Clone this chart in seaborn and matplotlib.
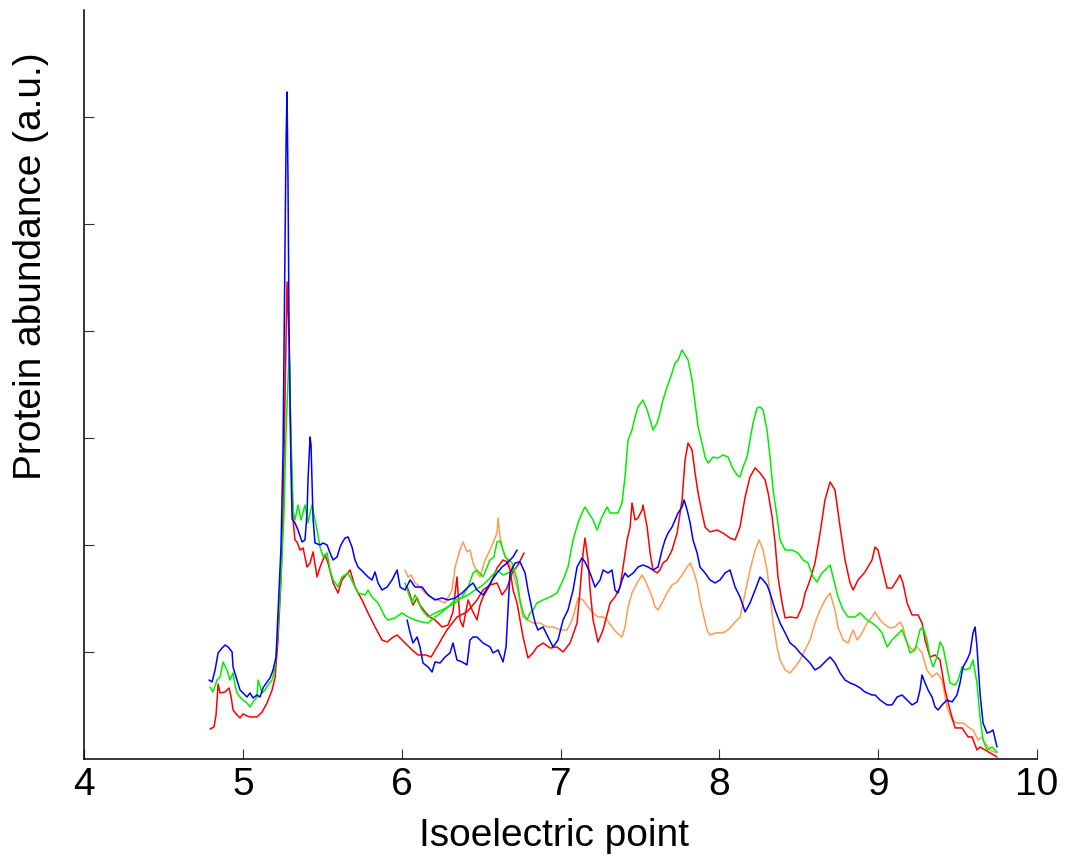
import matplotlib
matplotlib.use("Agg")
import matplotlib.pyplot as plt
import seaborn as sns
import pandas as pd

# ---- Profile data: isoelectric point (pH) vs. protein abundance (a.u.) ----
# Each sample was focused on two overlapping strips (low pH range and high pH range).

red_low_ph = [4.793, 4.818, 4.831, 4.844, 4.856, 4.888, 4.913, 4.926, 4.938, 4.963, 4.982, 5.001, 5.026, 5.045,
              5.089, 5.121, 5.152, 5.184, 5.203, 5.221, 5.240, 5.253, 5.265, 5.278, 5.291, 5.303, 5.316, 5.328,
              5.341, 5.360, 5.379, 5.404, 5.423, 5.442, 5.467, 5.486, 5.517, 5.536, 5.568, 5.599, 5.624, 5.675,
              5.706, 5.750, 5.788, 5.832, 5.876, 5.908, 5.939, 5.971, 6.002, 6.034, 6.065, 6.103, 6.153, 6.185,
              6.222, 6.285, 6.348, 6.411, 6.474, 6.512, 6.556, 6.600, 6.632, 6.663, 6.695, 6.732, 6.770]
red_low_val = [0.280, 0.299, 0.411, 0.701, 0.617, 0.626, 0.664, 0.579, 0.458, 0.411, 0.383, 0.421, 0.402, 0.393,
               0.393, 0.439, 0.523, 0.645, 0.766, 1.112, 1.673, 2.299, 3.355, 4.458, 3.916, 2.888, 2.234, 2.047,
               2.028, 1.953, 1.972, 1.794, 1.832, 1.935, 1.701, 1.794, 1.907, 1.832, 1.645, 1.551, 1.673, 1.766,
               1.608, 1.486, 1.365, 1.234, 1.112, 1.093, 1.131, 1.159, 1.112, 1.065, 1.019, 0.972, 0.972, 0.953,
               1.047, 1.206, 1.327, 1.374, 1.486, 1.579, 1.626, 1.645, 1.533, 1.598, 1.738, 1.813, 1.925]

red_high_ph = [6.034, 6.053, 6.071, 6.097, 6.115, 6.147, 6.178, 6.210, 6.254, 6.292, 6.323, 6.348, 6.367, 6.386,
               6.418, 6.443, 6.474, 6.493, 6.512, 6.556, 6.600, 6.638, 6.663, 6.682, 6.701, 6.726, 6.745, 6.764,
               6.795, 6.827, 6.852, 6.890, 6.934, 6.978, 7.016, 7.060, 7.104, 7.123, 7.142, 7.154, 7.173, 7.186,
               7.205, 7.236, 7.268, 7.312, 7.343, 7.375, 7.394, 7.419, 7.438, 7.450, 7.469, 7.488, 7.513, 7.519,
               7.545, 7.564, 7.582, 7.608, 7.626, 7.645, 7.671, 7.702, 7.734, 7.765, 7.784, 7.803, 7.828, 7.847,
               7.866, 7.891, 7.910, 7.941, 7.985, 8.023, 8.067, 8.099, 8.118, 8.130, 8.162, 8.193, 8.225, 8.256,
               8.288, 8.307, 8.332, 8.351, 8.369, 8.395, 8.414, 8.445, 8.489, 8.521, 8.540, 8.571, 8.602, 8.634,
               8.665, 8.697, 8.728, 8.760, 8.791, 8.823, 8.842, 8.873, 8.917, 8.961, 8.980, 8.999, 9.024, 9.056,
               9.087, 9.119, 9.137, 9.156, 9.182, 9.213, 9.251, 9.276, 9.295, 9.326, 9.358, 9.389, 9.421, 9.452,
               9.484, 9.528, 9.566, 9.591, 9.622, 9.641, 9.673, 9.704, 9.748]
red_high_val = [1.608, 1.533, 1.439, 1.505, 1.439, 1.374, 1.327, 1.299, 1.234, 1.252, 1.374, 1.701, 1.299, 1.234,
                1.486, 1.393, 1.299, 1.439, 1.514, 1.626, 1.785, 1.860, 1.841, 1.766, 1.579, 1.458, 1.299, 1.140,
                0.944, 0.991, 1.047, 1.084, 1.037, 1.047, 1.000, 1.084, 1.271, 1.579, 1.925, 2.065, 1.860, 1.579,
                1.299, 1.093, 1.206, 1.458, 1.514, 1.607, 1.794, 2.047, 2.168, 2.393, 2.234, 2.252, 2.327, 2.374,
                2.168, 1.925, 1.766, 1.738, 1.766, 1.832, 1.860, 1.953, 2.112, 2.421, 2.794, 2.953, 2.888, 2.673,
                2.486, 2.299, 2.168, 2.122, 2.140, 2.112, 2.065, 2.047, 2.122, 2.168, 2.449, 2.636, 2.720, 2.673,
                2.608, 2.486, 2.262, 2.019, 1.701, 1.458, 1.318, 1.327, 1.318, 1.421, 1.551, 1.673, 1.832, 2.112,
                2.421, 2.589, 2.514, 2.168, 1.860, 1.645, 1.579, 1.673, 1.748, 1.860, 1.981, 1.953, 1.794, 1.598,
                1.598, 1.673, 1.720, 1.645, 1.458, 1.346, 1.346, 1.271, 1.112, 0.953, 0.972, 0.925, 0.645, 0.458,
                0.290, 0.290, 0.206, 0.206, 0.084, 0.112, 0.084, 0.056, 0.019]

green_low_ph = [4.793, 4.812, 4.837, 4.856, 4.875, 4.900, 4.919, 4.938, 4.951, 4.963, 4.982, 5.001, 5.026, 5.045,
                5.064, 5.089, 5.096, 5.121, 5.140, 5.158, 5.184, 5.203, 5.221, 5.240, 5.259, 5.272, 5.291, 5.303,
                5.310, 5.316, 5.328, 5.347, 5.366, 5.391, 5.410, 5.435, 5.454, 5.467, 5.486, 5.505, 5.530, 5.549,
                5.568, 5.599, 5.624, 5.662, 5.694, 5.725, 5.769, 5.788, 5.813, 5.851, 5.895, 5.914, 5.958, 6.002,
                6.040, 6.084, 6.128, 6.166, 6.210, 6.254, 6.292, 6.336, 6.380, 6.418, 6.462, 6.512, 6.556, 6.600,
                6.638, 6.682, 6.720]
green_low_val = [0.673, 0.626, 0.738, 0.766, 0.907, 0.832, 0.738, 0.804, 0.692, 0.617, 0.579, 0.551, 0.523, 0.486,
                 0.533, 0.579, 0.738, 0.617, 0.645, 0.692, 0.738, 0.860, 1.206, 1.673, 2.299, 3.075, 3.785, 2.981,
                 2.673, 2.327, 2.234, 2.374, 2.234, 2.374, 2.206, 2.374, 2.234, 2.140, 1.981, 1.888, 1.925, 1.766,
                 1.673, 1.607, 1.701, 1.738, 1.645, 1.551, 1.533, 1.579, 1.514, 1.458, 1.327, 1.299, 1.318, 1.365,
                 1.327, 1.299, 1.280, 1.271, 1.327, 1.374, 1.421, 1.486, 1.505, 1.533, 1.579, 1.626, 1.692, 1.766,
                 1.720, 1.748, 1.785]

green_high_ph = [6.021, 6.046, 6.065, 6.084, 6.128, 6.166, 6.210, 6.254, 6.292, 6.336, 6.380, 6.418, 6.449, 6.474,
                 6.512, 6.556, 6.581, 6.600, 6.619, 6.632, 6.651, 6.695, 6.726, 6.745, 6.764, 6.789, 6.808, 6.827,
                 6.852, 6.890, 6.934, 6.978, 7.016, 7.047, 7.079, 7.110, 7.135, 7.154, 7.173, 7.205, 7.230, 7.261,
                 7.293, 7.312, 7.331, 7.362, 7.387, 7.406, 7.425, 7.450, 7.469, 7.488, 7.519, 7.545, 7.564, 7.582,
                 7.608, 7.626, 7.645, 7.671, 7.702, 7.721, 7.740, 7.765, 7.784, 7.803, 7.828, 7.847, 7.866, 7.891,
                 7.910, 7.929, 7.960, 7.992, 8.023, 8.055, 8.080, 8.111, 8.130, 8.149, 8.174, 8.193, 8.212, 8.237,
                 8.256, 8.275, 8.300, 8.319, 8.338, 8.363, 8.382, 8.414, 8.458, 8.495, 8.527, 8.558, 8.590, 8.615,
                 8.646, 8.678, 8.697, 8.716, 8.747, 8.779, 8.810, 8.854, 8.886, 8.930, 8.961, 8.993, 9.024, 9.056,
                 9.087, 9.119, 9.150, 9.182, 9.201, 9.232, 9.263, 9.282, 9.307, 9.326, 9.345, 9.370, 9.389, 9.408,
                 9.433, 9.452, 9.484, 9.503, 9.528, 9.547, 9.578, 9.597, 9.622, 9.641, 9.660, 9.685, 9.717, 9.748]
green_high_val = [1.645, 1.533, 1.458, 1.533, 1.393, 1.327, 1.365, 1.393, 1.421, 1.458, 1.514, 1.607, 1.738, 1.766,
                  1.701, 1.860, 1.888, 2.028, 2.037, 1.981, 1.888, 1.832, 1.673, 1.486, 1.365, 1.299, 1.365, 1.393,
                  1.458, 1.486, 1.514, 1.551, 1.673, 1.794, 2.047, 2.206, 2.299, 2.355, 2.308, 2.234, 2.140, 2.262,
                  2.355, 2.299, 2.299, 2.299, 2.393, 2.636, 2.981, 3.075, 3.196, 3.290, 3.355, 3.262, 3.168, 3.075,
                  3.140, 3.234, 3.355, 3.477, 3.607, 3.701, 3.729, 3.822, 3.776, 3.729, 3.542, 3.327, 3.103, 2.953,
                  2.822, 2.766, 2.822, 2.813, 2.841, 2.822, 2.729, 2.654, 2.636, 2.729, 2.822, 2.981, 3.140, 3.280,
                  3.290, 3.262, 3.075, 2.822, 2.514, 2.262, 2.047, 1.953, 1.953, 1.925, 1.860, 1.832, 1.701, 1.654,
                  1.738, 1.785, 1.813, 1.701, 1.514, 1.393, 1.327, 1.327, 1.365, 1.299, 1.271, 1.234, 1.178, 1.047,
                  1.112, 1.159, 1.206, 1.084, 0.991, 1.019, 1.206, 1.234, 1.112, 0.953, 0.860, 0.953, 1.093, 1.047,
                  0.860, 0.710, 0.692, 0.738, 0.860, 0.832, 0.850, 0.925, 0.710, 0.393, 0.178, 0.084, 0.112, 0.065]

blue_low_ph = [4.787, 4.806, 4.825, 4.844, 4.869, 4.888, 4.907, 4.932, 4.938, 4.963, 4.982, 5.001, 5.026, 5.045,
               5.064, 5.089, 5.108, 5.127, 5.152, 5.171, 5.190, 5.209, 5.221, 5.240, 5.253, 5.265, 5.272, 5.278,
               5.284, 5.291, 5.303, 5.310, 5.328, 5.347, 5.373, 5.391, 5.404, 5.410, 5.423, 5.429, 5.435, 5.442,
               5.454, 5.486, 5.505, 5.530, 5.549, 5.568, 5.593, 5.612, 5.624, 5.643, 5.662, 5.687, 5.706, 5.725,
               5.757, 5.788, 5.813, 5.832, 5.851, 5.876, 5.908, 5.939, 5.971, 5.990, 6.021, 6.053, 6.084, 6.128,
               6.166, 6.210, 6.254, 6.292, 6.336, 6.380, 6.418, 6.449, 6.474, 6.512, 6.544, 6.569, 6.600, 6.632,
               6.663, 6.701, 6.726]
blue_low_val = [0.738, 0.720, 0.832, 0.991, 1.037, 1.065, 1.047, 1.000, 0.860, 0.738, 0.645, 0.617, 0.579, 0.617,
                0.570, 0.598, 0.579, 0.664, 0.720, 0.757, 0.832, 0.953, 1.365, 1.981, 2.888, 4.757, 5.785, 6.234,
                5.411, 3.963, 2.701, 2.243, 2.206, 2.140, 2.028, 2.047, 2.299, 2.608, 3.009, 2.935, 2.608, 2.243,
                2.019, 2.000, 2.019, 2.000, 1.925, 1.860, 1.888, 1.981, 2.019, 2.065, 2.075, 1.981, 1.860, 1.794,
                1.748, 1.701, 1.673, 1.748, 1.645, 1.579, 1.607, 1.673, 1.766, 1.607, 1.579, 1.673, 1.607, 1.607,
                1.533, 1.486, 1.505, 1.486, 1.505, 1.551, 1.607, 1.645, 1.579, 1.533, 1.607, 1.673, 1.738, 1.794,
                1.832, 1.888, 1.953]

blue_high_ph = [6.034, 6.053, 6.071, 6.097, 6.115, 6.134, 6.166, 6.191, 6.210, 6.241, 6.273, 6.304, 6.323, 6.348,
                6.380, 6.411, 6.430, 6.449, 6.474, 6.512, 6.556, 6.575, 6.607, 6.638, 6.657, 6.670, 6.682, 6.714,
                6.745, 6.777, 6.795, 6.821, 6.840, 6.858, 6.890, 6.921, 6.953, 6.984, 7.016, 7.047, 7.079, 7.104,
                7.135, 7.154, 7.186, 7.217, 7.249, 7.268, 7.299, 7.324, 7.343, 7.362, 7.387, 7.406, 7.425, 7.457,
                7.488, 7.519, 7.551, 7.582, 7.614, 7.639, 7.658, 7.677, 7.702, 7.721, 7.740, 7.765, 7.778, 7.797,
                7.816, 7.834, 7.860, 7.878, 7.910, 7.941, 7.973, 8.004, 8.036, 8.067, 8.099, 8.130, 8.162, 8.193,
                8.225, 8.256, 8.275, 8.300, 8.319, 8.351, 8.382, 8.414, 8.445, 8.477, 8.508, 8.540, 8.571, 8.602,
                8.634, 8.665, 8.697, 8.728, 8.760, 8.791, 8.823, 8.854, 8.886, 8.917, 8.961, 8.980, 9.012, 9.056,
                9.087, 9.119, 9.150, 9.182, 9.213, 9.245, 9.263, 9.276, 9.295, 9.314, 9.339, 9.358, 9.377, 9.402,
                9.433, 9.465, 9.496, 9.515, 9.534, 9.559, 9.578, 9.597, 9.610, 9.622, 9.641, 9.660, 9.685, 9.704,
                9.723, 9.748]
blue_high_val = [1.299, 1.178, 1.084, 1.140, 1.047, 0.897, 0.860, 0.813, 0.907, 0.897, 0.953, 0.991, 1.084, 0.925,
                 0.907, 0.879, 1.112, 1.140, 1.140, 1.084, 1.047, 0.991, 1.019, 0.907, 1.047, 1.421, 1.738, 1.832,
                 1.841, 1.738, 1.579, 1.393, 1.271, 1.206, 1.234, 1.140, 1.047, 1.112, 1.299, 1.393, 1.579, 1.794,
                 1.879, 1.841, 1.738, 1.607, 1.673, 1.766, 1.738, 1.766, 1.579, 1.551, 1.673, 1.738, 1.701, 1.738,
                 1.794, 1.813, 1.794, 1.766, 1.794, 1.953, 2.047, 2.112, 2.168, 2.234, 2.299, 2.355, 2.421, 2.327,
                 2.206, 2.047, 1.925, 1.794, 1.738, 1.673, 1.645, 1.673, 1.738, 1.766, 1.607, 1.514, 1.374, 1.458,
                 1.579, 1.701, 1.673, 1.626, 1.551, 1.393, 1.271, 1.178, 1.084, 1.047, 0.991, 0.944, 0.897, 0.832,
                 0.860, 0.907, 0.953, 0.897, 0.804, 0.738, 0.710, 0.692, 0.664, 0.626, 0.598, 0.598, 0.551, 0.505,
                 0.505, 0.579, 0.598, 0.551, 0.505, 0.533, 0.645, 0.785, 0.710, 0.645, 0.579, 0.486, 0.458, 0.505,
                 0.551, 0.533, 0.598, 0.710, 0.860, 0.925, 0.991, 1.178, 1.234, 1.047, 0.617, 0.336, 0.243, 0.252,
                 0.271, 0.112]

orange_high_ph = [6.021, 6.040, 6.059, 6.084, 6.115, 6.147, 6.191, 6.229, 6.273, 6.317, 6.336, 6.367, 6.386, 6.411,
                  6.430, 6.449, 6.474, 6.493, 6.525, 6.556, 6.575, 6.600, 6.607, 6.619, 6.638, 6.663, 6.682, 6.701,
                  6.726, 6.745, 6.764, 6.795, 6.827, 6.871, 6.915, 6.953, 6.997, 7.041, 7.072, 7.091, 7.110, 7.142,
                  7.173, 7.205, 7.236, 7.268, 7.293, 7.324, 7.356, 7.387, 7.406, 7.425, 7.450, 7.482, 7.513, 7.532,
                  7.551, 7.576, 7.595, 7.614, 7.639, 7.671, 7.702, 7.734, 7.765, 7.797, 7.816, 7.834, 7.860, 7.878,
                  7.897, 7.922, 7.941, 7.973, 8.004, 8.036, 8.067, 8.099, 8.130, 8.162, 8.193, 8.225, 8.250, 8.275,
                  8.300, 8.319, 8.338, 8.363, 8.382, 8.414, 8.445, 8.477, 8.508, 8.540, 8.571, 8.602, 8.634, 8.665,
                  8.697, 8.728, 8.747, 8.779, 8.810, 8.842, 8.867, 8.898, 8.930, 8.961, 8.980, 9.012, 9.043, 9.075,
                  9.106, 9.137, 9.156, 9.182, 9.213, 9.245, 9.276, 9.307, 9.339, 9.370, 9.402, 9.433, 9.465, 9.496,
                  9.534, 9.566, 9.597, 9.629, 9.654, 9.673, 9.704, 9.748]
orange_high_val = [1.766, 1.701, 1.720, 1.645, 1.607, 1.551, 1.505, 1.486, 1.458, 1.579, 1.794, 1.953, 2.028, 1.935,
                   1.953, 1.832, 1.738, 1.701, 1.860, 1.953, 2.019, 2.112, 2.252, 2.075, 1.953, 1.860, 1.813, 1.738,
                   1.607, 1.458, 1.327, 1.299, 1.271, 1.271, 1.234, 1.234, 1.206, 1.206, 1.299, 1.393, 1.505, 1.486,
                   1.421, 1.365, 1.327, 1.327, 1.299, 1.234, 1.178, 1.140, 1.234, 1.421, 1.551, 1.645, 1.720, 1.673,
                   1.607, 1.514, 1.421, 1.393, 1.458, 1.551, 1.626, 1.654, 1.720, 1.794, 1.832, 1.766, 1.645, 1.486,
                   1.365, 1.206, 1.159, 1.178, 1.178, 1.187, 1.224, 1.280, 1.327, 1.551, 1.766, 1.953, 2.047, 1.953,
                   1.766, 1.551, 1.271, 1.047, 0.925, 0.832, 0.804, 0.860, 0.925, 1.019, 1.112, 1.271, 1.393, 1.486,
                   1.551, 1.393, 1.234, 1.112, 1.084, 1.206, 1.112, 1.178, 1.271, 1.327, 1.374, 1.299, 1.252, 1.224,
                   1.234, 1.280, 1.234, 1.084, 1.019, 1.047, 0.991, 0.832, 0.766, 0.804, 0.738, 0.486, 0.364, 0.336,
                   0.336, 0.299, 0.271, 0.178, 0.206, 0.150, 0.084, 0.056]

X_LABEL = "Isoelectric point"
Y_LABEL = "Protein abundance (a.u.)"
X_TICKS = [4, 5, 6, 7, 8, 9, 10]
Y_TICKS = [1, 2, 3, 4, 5, 6]

RED = "#ff0000"
GREEN = "#00ee00"
BLUE = "#0000ff"
ORANGE = "#ff9b55"

sns.set_style("ticks")
plt.rcParams["font.family"] = ["Liberation Sans", "DejaVu Sans"]
plt.rcParams["text.color"] = "black"
plt.rcParams["axes.labelcolor"] = "black"
plt.rcParams["xtick.color"] = "black"
plt.rcParams["ytick.color"] = "black"
plt.rcParams["axes.edgecolor"] = "black"

fig = plt.figure(figsize=(10.68, 8.61), dpi=100)
ax = fig.add_axes([0.0787, 0.1185, 0.8923, 0.8699])

segments = [
    (orange_high_ph, orange_high_val, ORANGE),
    (red_low_ph, red_low_val, RED),
    (red_high_ph, red_high_val, RED),
    (green_low_ph, green_low_val, GREEN),
    (green_high_ph, green_high_val, GREEN),
    (blue_low_ph, blue_low_val, BLUE),
    (blue_high_ph, blue_high_val, BLUE),
]
for ph, val, col in segments:
    df = pd.DataFrame({"pH": ph, "abundance": val})
    sns.lineplot(data=df, x="pH", y="abundance", color=col, linewidth=1.1,
                 estimator=None, sort=False, ax=ax)

ax.set_xlim(4, 10)
ax.set_ylim(0, 7)
ax.set_xticks(X_TICKS)
ax.set_xticklabels([str(t) for t in X_TICKS])
ax.set_yticks(Y_TICKS)
ax.set_yticklabels([])

sns.despine(ax=ax, top=True, right=True)
for side in ("left", "bottom"):
    ax.spines[side].set_linewidth(1.1)
    ax.spines[side].set_color("black")

ax.tick_params(axis="both", direction="in", length=7, width=0.8, color="#333333")
ax.tick_params(axis="x", labelsize=28, pad=6, labelcolor="black")

ax.set_xlabel(X_LABEL, fontsize=28, color="black")
ax.set_ylabel(Y_LABEL, fontsize=28, color="black")
ax.xaxis.set_label_coords(0.493, -0.079)
ax.yaxis.set_label_coords(-0.037, 0.658)

fig.savefig("out.png", dpi=100)
